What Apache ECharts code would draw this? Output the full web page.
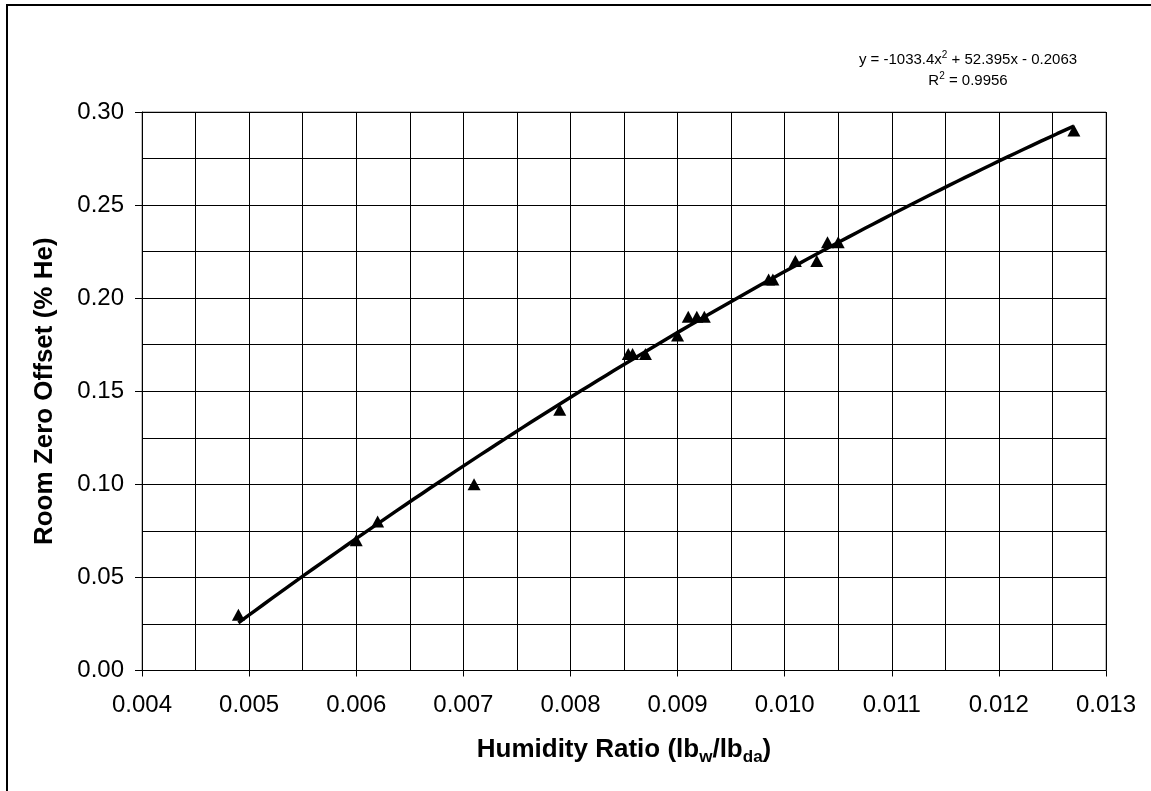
<!DOCTYPE html>
<html>
<head>
<meta charset="utf-8">
<script src="https://cdn.jsdelivr.net/npm/echarts@6/dist/echarts.min.js"></script>
<style>
html,body{margin:0;padding:0;background:#fff;}
#chart{width:1151px;height:791px;}
</style>
</head>
<body>
<div id="chart"></div>
<script>
// Measured data (humidity ratio, room zero offset)
const humidityRatio = [0.0049, 0.0060, 0.0062, 0.0071, 0.0079, 0.00854, 0.00858, 0.0087, 0.0090, 0.0091, 0.00918, 0.00925, 0.00985, 0.00989, 0.0101, 0.0103, 0.0104, 0.0105, 0.0127];
const zeroOffset    = [0.03,   0.07,   0.08,   0.10,   0.14,   0.17,    0.17,    0.17,   0.18,   0.19,   0.19,    0.19,    0.21,    0.21,    0.22,   0.22,   0.23,   0.23,   0.29];
// Polynomial trendline coefficients as printed on the chart: a*x^2 + b*x + c
const trendCoef = [-1033.4, 52.395, -0.2063];
const trendRange = [0.0049, 0.0127];
const xTicks = [0.004, 0.005, 0.006, 0.007, 0.008, 0.009, 0.010, 0.011, 0.012, 0.013];
const yTicks = [0.00, 0.05, 0.10, 0.15, 0.20, 0.25, 0.30];

const points = humidityRatio.map((x, i) => [x, zeroOffset[i]]);
const trend = [];
const nSteps = 100;
for (let i = 0; i <= nSteps; i++) {
  const x = trendRange[0] + (trendRange[1] - trendRange[0]) * i / nSteps;
  trend.push([x, trendCoef[0] * x * x + trendCoef[1] * x + trendCoef[2]]);
}

const chart = echarts.init(document.getElementById('chart'), null, {renderer: 'canvas'});
const FONT = '"Liberation Sans", Arial, sans-serif';
chart.setOption({
  animation: false,
  backgroundColor: '#fff',
  grid: {left: 142, right: 45, top: 112, bottom: 120.5, show: true, borderColor: '#808080', borderWidth: 1, backgroundColor: '#fff'},
  xAxis: {
    type: 'value', min: xTicks[0], max: xTicks[xTicks.length - 1], interval: 0.001,
    axisLine: {show: true, onZero: false, lineStyle: {color: '#000', width: 1}},
    axisTick: {show: true, length: 6, lineStyle: {color: '#000'}},
    minorTick: {show: false, splitNumber: 2},
    splitLine: {show: true, lineStyle: {color: '#000', width: 1}},
    minorSplitLine: {show: true, lineStyle: {color: '#000', width: 1}},
    axisLabel: {color: '#000', fontSize: 24, fontFamily: FONT, margin: 23, formatter: v => v.toFixed(3)},
    name: 'Humidity Ratio (lb{sub|w}/lb{sub|da})',
    nameLocation: 'middle', nameGap: 63,
    nameTextStyle: {color: '#000', fontSize: 26, fontWeight: 'bold', fontFamily: FONT,
      rich: {
        sub: {fontSize: 17, fontWeight: 'bold', fontFamily: FONT, color: '#000', padding: [15, 0, 0, 0]}
      }}
  },
  yAxis: {
    type: 'value', min: yTicks[0], max: yTicks[yTicks.length - 1], interval: 0.05,
    axisLine: {show: true, onZero: false, lineStyle: {color: '#000', width: 1}},
    axisTick: {show: true, length: 7, lineStyle: {color: '#000'}},
    minorTick: {show: false, splitNumber: 2},
    splitLine: {show: true, lineStyle: {color: '#000', width: 1}},
    minorSplitLine: {show: true, lineStyle: {color: '#000', width: 1}},
    axisLabel: {color: '#000', fontSize: 24, fontFamily: FONT, margin: 18, formatter: v => v.toFixed(2)},
    name: 'Room Zero Offset (% He)',
    nameLocation: 'middle', nameGap: 84,
    nameTextStyle: {color: '#000', fontSize: 26, fontWeight: 'bold', fontFamily: FONT}
  },
  series: [
    {
      type: 'line', data: trend, showSymbol: false, symbol: 'none', smooth: false,
      lineStyle: {color: '#000', width: 3.5}, z: 3, silent: true
    },
    {
      type: 'scatter', data: points, symbol: 'triangle', symbolSize: [13, 12],
      itemStyle: {color: '#000', opacity: 1}, z: 4
    }
  ],
  graphic: [
    {type: 'rect', shape: {x: 7, y: 5, width: 1300, height: 900}, style: {fill: 'none', stroke: '#000', lineWidth: 2}, silent: true, z: 100},
    {type: 'text', x: 968, y: 60, style: {
      text: 'y = -1033.4x{sup|2} + 52.395x - 0.2063', fill: '#000', fontSize: 15, fontFamily: FONT,
      align: 'center', verticalAlign: 'middle',
      rich: {sup: {fontSize: 10, fontFamily: FONT, fill: '#000', padding: [0, 0, 9, 0]}}}},
    {type: 'text', x: 968, y: 81, style: {
      text: 'R{sup|2} = 0.9956', fill: '#000', fontSize: 15, fontFamily: FONT,
      align: 'center', verticalAlign: 'middle',
      rich: {sup: {fontSize: 10, fontFamily: FONT, fill: '#000', padding: [0, 0, 9, 0]}}}}
  ]
});
</script>
</body>
</html>
